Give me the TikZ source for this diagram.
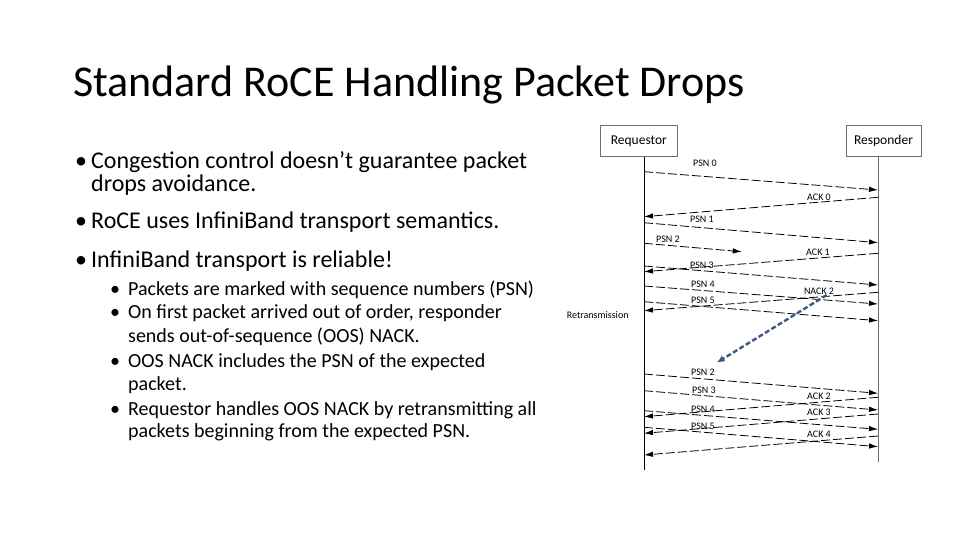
\documentclass[tikz,border=0pt]{standalone}
\usepackage{fontspec}
\setmainfont{Carlito}
\usetikzlibrary{arrows.meta}
\definecolor{nackblue}{RGB}{62,88,130}
\definecolor{boxgray}{RGB}{110,110,110}
\begin{document}
\begin{tikzpicture}[x=1pt,y=-1pt,
  title/.style={anchor=base west,inner sep=0pt,font=\fontsize{44}{48}\selectfont},
  lone/.style={anchor=base west,inner sep=0pt,font=\fontsize{24}{28}\selectfont},
  ltwo/.style={anchor=base west,inner sep=0pt,font=\fontsize{20}{24}\selectfont},
  actor/.style={draw=boxgray,line width=0.8pt,minimum height=31pt,inner sep=0pt,font=\fontsize{13.5}{15}\selectfont},
  lbl/.style={inner sep=0pt,font=\fontsize{10}{11}\selectfont},
  life/.style={line width=0.8pt},
  msg/.style={line width=0.8pt,dash pattern=on 9pt off 3pt,-{Latex[length=9pt,width=5.5pt]}},
  nack/.style={nackblue,line width=2.4pt,dash pattern=on 5pt off 2.5pt,-{Latex[length=8pt,width=7pt]}}
]
\useasboundingbox (0,0) rectangle (960,540);

% title
\node[title] (t) at (73,97) {Standard RoCE Handling Packet Drops};

% bullets
\node[lone] (b1) at (75,168) {•};
\node[lone] (l1) at (91,168) {Congestion control doesn’t guarantee packet};
\node[lone] (l1b) at (91,191) {drops avoidance.};
\node[lone] (b2) at (75,228) {•};
\node[lone] (l2) at (91,228) {RoCE uses InfiniBand transport semantics.};
\node[lone] (b3) at (75,267) {•};
\node[lone] (l3) at (91,267) {InfiniBand transport is reliable!};

\node[ltwo] (s1) at (110,295) {•};
\node[ltwo] (m1) at (128,295) {Packets are marked with sequence numbers (PSN)};
\node[ltwo] (s2) at (110,318) {•};
\node[ltwo] (m2) at (128,318) {On first packet arrived out of order, responder};
\node[ltwo] (m2b) at (128,342) {sends out-of-sequence (OOS) NACK.};
\node[ltwo] (s3) at (110,367) {•};
\node[ltwo] (m3) at (128,367) {OOS NACK includes the PSN of the expected};
\node[ltwo] (m3b) at (128,390) {packet.};
\node[ltwo] (s4) at (110,415) {•};
\node[ltwo] (m4) at (128,415) {Requestor handles OOS NACK by retransmitting all};
\node[ltwo] (m4b) at (128,437) {packets beginning from the expected PSN.};

% actors
\node[actor,minimum width=77pt] (req) at (638.8,141) {Requestor};
\node[actor,minimum width=75pt] (resp) at (883.5,141) {Responder};
\coordinate (reqtop) at (644,157);
\coordinate (reqbot) at (644,470);
\coordinate (resptop) at (878,157);
\coordinate (respbot) at (878,462);
\draw[life] (reqtop) -- (reqbot);
\draw[life,boxgray] (resptop) -- (respbot);

% requestor -> responder
\foreach \n/\ya/\yb in {p0/171.7/190, p1/222.7/242.7, p3/266/285, p4/286/304, p5/301.7/320.7,
                        r2/374/393.3, r3/390.7/410, r4/410.7/429.3, r5/427.3/446.7}{
  \coordinate (\n s) at (644,\ya);
  \coordinate (\n e) at (878,\yb);
  \draw[msg] (\n s) -- (\n e);
}
% lost packet
\coordinate (p2s) at (644,243.3);
\coordinate (p2e) at (741.7,251.7);
\draw[msg] (p2s) -- (p2e);

% responder -> requestor
\foreach \n/\ya/\yb in {a0/197.3/216.7, a1/253.3/271.7, n2/292.3/310.7,
                        a2/397.3/416.7, a3/414/433.3, a4/436/455}{
  \coordinate (\n s) at (878,\ya);
  \coordinate (\n e) at (644,\yb);
  \draw[msg] (\n s) -- (\n e);
}

% NACK to retransmission
\coordinate (nks) at (826.7,295);
\coordinate (nke) at (716.7,362.7);
\draw[nack] (nks) -- (nke);

% labels
\node[lbl] (lp0) at (705,163) {PSN 0};
\node[lbl] (la0) at (819,197) {ACK 0};
\node[lbl] (lp1) at (702,219) {PSN 1};
\node[lbl] (lp2) at (668,239) {PSN 2};
\node[lbl] (la1) at (818,252) {ACK 1};
\node[lbl] (lp3) at (702,265) {PSN 3};
\node[lbl] (lp4) at (703,284) {PSN 4};
\node[lbl] (ln2) at (819,291) {NACK 2};
\node[lbl] (lp5) at (703,300.5) {PSN 5};
\node[lbl] (lretr) at (597.7,315) {Retransmission};
\node[lbl] (lr2) at (703,372.5) {PSN 2};
\node[lbl] (lr3) at (704,390) {PSN 3};
\node[lbl] (la2) at (819,396.5) {ACK 2};
\node[lbl] (lr4) at (703,409) {PSN 4};
\node[lbl] (la3) at (819,412.5) {ACK 3};
\node[lbl] (lr5) at (703,426) {PSN 5};
\node[lbl] (la4) at (819,434) {ACK 4};
\end{tikzpicture}
\end{document}
